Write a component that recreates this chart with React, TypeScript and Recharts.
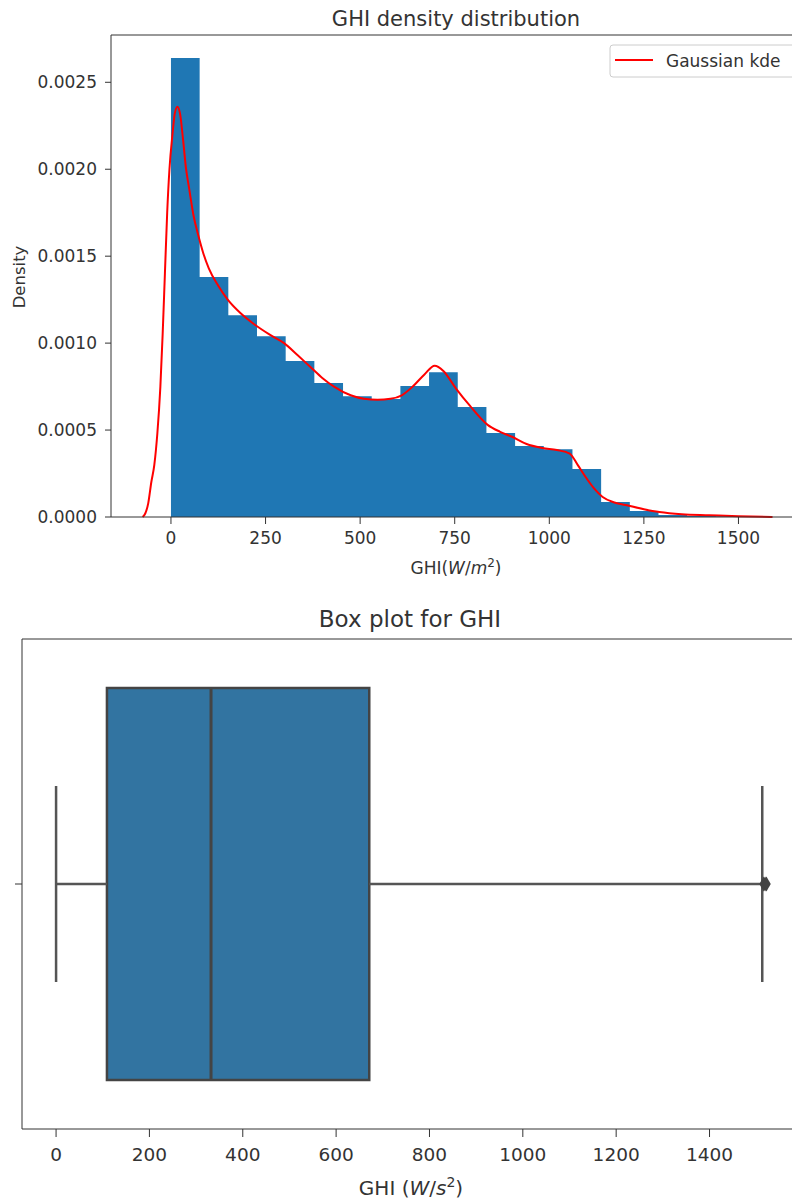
import React from "react";
import {
  ComposedChart,
  Area,
  Line,
  Scatter,
  XAxis,
  YAxis,
  ReferenceLine,
  ReferenceArea
} from "recharts";

const FONT = "'DejaVu Sans', sans-serif";
const INK = "#333";

// histogram, density=True, 20 bins
const binEdges = [0, 75.8, 151.6, 227.4, 303.2, 379, 454.8, 530.6, 606.4, 682.2, 758, 833.8, 909.6, 985.4, 1061.2, 1137, 1212.8, 1288.6, 1364.4, 1440.2, 1516];
const binDensity = [0.00264, 0.00138, 0.00116, 0.00104, 0.000897, 0.00077, 0.000695, 0.000678, 0.000753, 0.000833, 0.000632, 0.000483, 0.000408, 0.00039, 0.000276, 0.000086, 0.000034, 0.000012, 0.000006, 0.000004];

// gaussian kde curve
const kdeX = [-75, -68, -60, -52, -44, -36, -28, -22, -16, -10, -4, 4, 10, 17, 24, 32, 40, 48, 60, 71, 85, 100, 125, 150, 185, 219, 260, 299, 335, 370, 400, 431, 475, 510, 546, 580, 610, 639, 670, 697, 720, 753, 790, 837, 870, 903, 940, 982, 1020, 1054, 1075, 1096, 1120, 1141, 1170, 1201, 1250, 1291, 1350, 1423, 1500, 1590];
const kdeY = [0, 0.00002, 0.00008, 0.0002, 0.0003, 0.00048, 0.00075, 0.00105, 0.0014, 0.00175, 0.002, 0.0022, 0.00232, 0.00236, 0.00232, 0.00217, 0.002, 0.00189, 0.00173, 0.00163, 0.00152, 0.00143, 0.00133, 0.00125, 0.00117, 0.00111, 0.00105, 0.001, 0.00093, 0.00086, 0.0008, 0.00075, 0.0007, 0.00068, 0.000675, 0.00068, 0.0007, 0.00075, 0.00082, 0.00087, 0.00084, 0.00074, 0.00064, 0.00053, 0.00049, 0.00046, 0.00042, 0.000397, 0.000385, 0.000365, 0.0003, 0.00023, 0.00016, 0.000115, 0.000085, 0.000069, 0.000045, 0.000029, 0.000016, 0.00001, 0.000004, 0];

const histTicksX = [0, 250, 500, 750, 1000, 1250, 1500];
const histTicksY = [0, 0.0005, 0.001, 0.0015, 0.002, 0.0025];
const histYMax = 0.002772;

// box plot stats
const boxKeys = ["min", "q1", "median", "q3", "max"];
const boxValues = [0, 109, 332, 671, 1513];
const outliers = [1516, 1519, 1522];
const boxTicksX = [0, 200, 400, 600, 800, 1000, 1200, 1400];

const histData = binEdges.map((x, i) => ({ x, density: binDensity[i] ?? 0 }));
const kdeData = kdeX.map((x, i) => ({ x, kde: kdeY[i] }));
const box: Record<string, number> = {};
boxKeys.forEach((k, i) => (box[k] = boxValues[i]));
const outlierData = outliers.map((x) => ({ x, y: 0 }));

const tickStyleTop = { fill: INK, fontSize: 17, fontFamily: FONT };
const tickStyleBottom = { fill: INK, fontSize: 18.5, fontFamily: FONT };
const boxEdge = "#444";
const whisker = "#555";

export default function App() {
  return (
    <div style={{ position: "absolute", left: 0, top: 0, width: 792, height: 1200, overflow: "hidden", background: "#fff" }}>
      <div style={{ position: "absolute", left: 0, top: 0 }}>
        <ComposedChart width={820} height={600} margin={{ top: 35, right: 14, bottom: 33, left: 0 }}>
          <XAxis
            dataKey="x"
            type="number"
            domain={[-158.5, 1678.5]}
            ticks={histTicksX}
            interval={0}
            allowDataOverflow
            height={50}
            tickSize={7}
            tickMargin={8}
            stroke={INK}
            tick={tickStyleTop}
          />
          <YAxis
            type="number"
            domain={[0, histYMax]}
            ticks={histTicksY}
            interval={0}
            width={111}
            tickSize={6}
            tickMargin={8}
            stroke={INK}
            tick={tickStyleTop}
            tickFormatter={(v: number) => v.toFixed(4)}
          />
          <Area
            data={histData}
            dataKey="density"
            type="stepAfter"
            fill="#1f77b4"
            fillOpacity={1}
            stroke="none"
            isAnimationActive={false}
          />
          <Line
            data={kdeData}
            dataKey="kde"
            type="monotone"
            stroke="#ff0000"
            strokeWidth={2}
            dot={false}
            isAnimationActive={false}
          />
          <ReferenceLine y={histYMax} stroke={INK} />
        </ComposedChart>
      </div>

      <div style={{ position: "absolute", left: 0, top: 600 }}>
        <ComposedChart width={820} height={600} margin={{ top: 39, right: 19, bottom: 31, left: 0 }}>
          <XAxis
            dataKey="x"
            type="number"
            domain={[-73, 1596]}
            ticks={boxTicksX}
            interval={0}
            allowDataOverflow
            height={40}
            tickSize={8}
            tickMargin={11}
            stroke={INK}
            tick={tickStyleBottom}
          />
          <YAxis
            dataKey="y"
            type="number"
            domain={[-0.5, 0.5]}
            ticks={[0]}
            width={22}
            tickSize={7}
            stroke={INK}
            tickFormatter={() => ""}
          />
          <ReferenceArea x1={box.q1} x2={box.q3} y1={-0.4} y2={0.4} fill="#3274a1" fillOpacity={1} stroke={boxEdge} strokeWidth={2.5} />
          <ReferenceLine segment={[{ x: box.min, y: 0 }, { x: box.q1, y: 0 }]} stroke={whisker} strokeWidth={2.5} />
          <ReferenceLine segment={[{ x: box.q3, y: 0 }, { x: box.max, y: 0 }]} stroke={whisker} strokeWidth={2.5} />
          <ReferenceLine segment={[{ x: box.min, y: -0.2 }, { x: box.min, y: 0.2 }]} stroke={whisker} strokeWidth={2.5} />
          <ReferenceLine segment={[{ x: box.max, y: -0.2 }, { x: box.max, y: 0.2 }]} stroke={whisker} strokeWidth={2.5} />
          <ReferenceLine segment={[{ x: box.median, y: -0.4 }, { x: box.median, y: 0.4 }]} stroke={boxEdge} strokeWidth={3} />
          <Scatter data={outlierData} dataKey="y" fill="#444" shape="diamond" isAnimationActive={false} />
          <ReferenceLine y={0.5} stroke={INK} />
        </ComposedChart>
      </div>

      <svg width={792} height={1200} style={{ position: "absolute", left: 0, top: 0, pointerEvents: "none" }} fontFamily={FONT} fill={INK}>
        <text x={456} y={26} textAnchor="middle" fontSize={21}>GHI density distribution</text>
        <text x={456} y={574} textAnchor="middle" fontSize={17}>
          GHI(<tspan fontStyle="italic">W</tspan>/<tspan fontStyle="italic">m</tspan>
          <tspan dy={-7} fontSize={12}>2</tspan>
          <tspan dy={7}>)</tspan>
        </text>
        <text transform="translate(25,277) rotate(-90)" textAnchor="middle" fontSize={16.5}>Density</text>

        <rect x={610} y={45} width={200} height={32} rx={3} fill="#fff" fillOpacity={0.8} stroke="#ccc" />
        <line x1={615} y1={60} x2={653} y2={60} stroke="#ff0000" strokeWidth={2} />
        <text x={666} y={67} fontSize={17}>Gaussian kde</text>

        <text x={410} y={627} textAnchor="middle" fontSize={23}>Box plot for GHI</text>
        <text x={411} y={1195} textAnchor="middle" fontSize={20}>
          GHI (<tspan fontStyle="italic">W</tspan>/<tspan fontStyle="italic">s</tspan>
          <tspan dy={-8} fontSize={14}>2</tspan>
          <tspan dy={8}>)</tspan>
        </text>
      </svg>
    </div>
  );
}
